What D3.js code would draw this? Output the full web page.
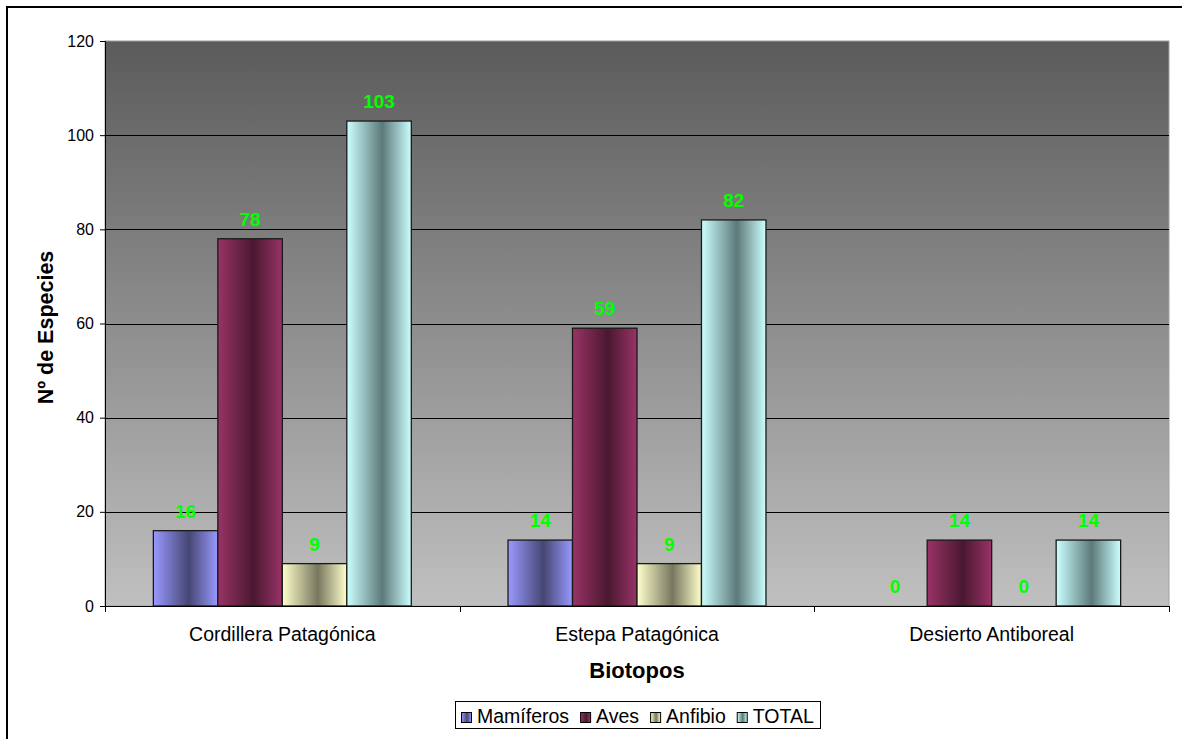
<!DOCTYPE html>
<html><head><meta charset="utf-8">
<script src="https://cdn.jsdelivr.net/npm/d3@7"></script>
<style>body{margin:0;background:#fff}svg{display:block;font-family:"Liberation Sans",Arial,sans-serif}</style>
</head><body><svg id="c" width="1182" height="739"></svg>
<script>
const categories = ["Cordillera Patagónica", "Estepa Patagónica", "Desierto Antiboreal"];
const seriesNames = ["Mamíferos", "Aves", "Anfibio", "TOTAL"];
const mamiferos = [16, 14, 0];
const aves = [78, 59, 14];
const anfibio = [9, 9, 0];
const total = [103, 82, 14];
const yTicks = [0, 20, 40, 60, 80, 100, 120];
const lightColors = ["#9999ff", "#993366", "#ffffcc", "#ccffff"];
const darkColors = ["#464673", "#4a1830", "#77775f", "#5d7979"];

const seriesValues = [mamiferos, aves, anfibio, total];
const svg = d3.select("#c");
const m = {l:105, r:1169, t:41, b:606};

// outer border
svg.append("rect").attr("x",7).attr("y",7).attr("width",1176).attr("height",740)
  .attr("fill","none").attr("stroke","#000").attr("stroke-width",2);

const defs = svg.append("defs");
const bg = defs.append("linearGradient").attr("id","bg").attr("x1",0).attr("x2",0).attr("y1",0).attr("y2",1);
bg.append("stop").attr("offset",0).attr("stop-color","#5b5b5b");
bg.append("stop").attr("offset",1).attr("stop-color","#c0c0c0");
seriesNames.forEach((s,i)=>{
  const g = defs.append("linearGradient").attr("id","g"+i).attr("x1",0).attr("x2",1).attr("y1",0).attr("y2",0);
  g.append("stop").attr("offset",0).attr("stop-color",lightColors[i]);
  g.append("stop").attr("offset",0.55).attr("stop-color",darkColors[i]);
  g.append("stop").attr("offset",1).attr("stop-color",lightColors[i]);
});

const y = d3.scaleLinear().domain([0,120]).range([m.b,m.t]);
const x0 = d3.scaleBand().domain(categories).range([m.l,m.r]);
const barW = x0.bandwidth()/(4+1.5);
const x1 = d3.scaleBand().domain(seriesNames).range([barW*0.75, barW*0.75+barW*4]).padding(0);

svg.append("rect").attr("x",m.l).attr("y",m.t).attr("width",m.r-m.l).attr("height",m.b-m.t)
  .attr("fill","url(#bg)").attr("stroke","#a0a0a0").attr("stroke-width",1);

// gridlines
svg.append("g").selectAll("line").data(yTicks.filter(d=>d>0 && d<120)).join("line")
  .attr("x1",m.l).attr("x2",m.r).attr("y1",d=>Math.round(y(d))+0.5).attr("y2",d=>Math.round(y(d))+0.5)
  .attr("stroke","#000").attr("stroke-width",1);

// bars
const groups = svg.append("g").selectAll("g").data(categories).join("g")
  .attr("transform",c=>`translate(${x0(c)},0)`);
seriesNames.forEach((s,i)=>{
  groups.append("rect")
    .attr("x",(c,j)=>x1(s)).attr("width",x1.bandwidth())
    .attr("y",(c,j)=>y(seriesValues[i][j])).attr("height",(c,j)=>y(0)-y(seriesValues[i][j]))
    .attr("fill","url(#g"+i+")").attr("stroke",(c,j)=>seriesValues[i][j]>0?"#1a1a1a":"none").attr("stroke-width",1.3);
  groups.append("text")
    .attr("x",(c,j)=>x1(s)+x1.bandwidth()/2).attr("y",(c,j)=>y(seriesValues[i][j])-13)
    .attr("text-anchor","middle").attr("fill","#00ff00").attr("font-weight","bold").attr("font-size",19)
    .text((c,j)=>seriesValues[i][j]);
});

// y axis
const ya = svg.append("g").attr("transform",`translate(${m.l},0)`)
  .call(d3.axisLeft(y).tickValues(yTicks).tickSize(5).tickPadding(6));
ya.select(".domain").attr("stroke","#000");
ya.selectAll("text").attr("font-size",16).attr("fill","#000").attr("font-family","Liberation Sans, Arial");
ya.selectAll("line").attr("stroke","#000");

// x axis
svg.append("line").attr("x1",m.l).attr("x2",m.r).attr("y1",m.b+0.5).attr("y2",m.b+0.5).attr("stroke","#000");
const bounds = categories.map(c=>x0(c)).concat([m.r]);
svg.append("g").selectAll("line").data(bounds).join("line")
  .attr("x1",d=>Math.round(d)+0.5).attr("x2",d=>Math.round(d)+0.5).attr("y1",m.b).attr("y2",m.b+6).attr("stroke","#000");
svg.append("g").selectAll("text").data(categories).join("text")
  .attr("x",c=>x0(c)+x0.bandwidth()/2).attr("y",641).attr("text-anchor","middle")
  .attr("font-size",19.5).attr("fill","#000").text(c=>c);

// titles
svg.append("text").attr("x",(m.l+m.r)/2).attr("y",678).attr("text-anchor","middle")
  .attr("font-size",22).attr("font-weight","bold").text("Biotopos");
svg.append("text").attr("transform",`translate(53,${(m.t+m.b)/2+4}) rotate(-90)`).attr("text-anchor","middle")
  .attr("font-size",21.5).attr("font-weight","bold").text("Nº de Especies");

// legend
const lg = svg.append("g");
lg.append("rect").attr("x",455.5).attr("y",701.5).attr("width",365).attr("height",27).attr("fill","#fff").attr("stroke","#000");
let cx = 461;
seriesNames.forEach((s,i)=>{
  lg.append("rect").attr("x",cx+0.5).attr("y",712.5).attr("width",10).attr("height",10)
    .attr("fill","url(#g"+i+")").attr("stroke","#000");
  const t = lg.append("text").attr("x",cx+16).attr("y",723).attr("font-size",19.5).text(s);
  cx = cx + 16 + t.node().getComputedTextLength() + 11;
});
</script></body></html>
